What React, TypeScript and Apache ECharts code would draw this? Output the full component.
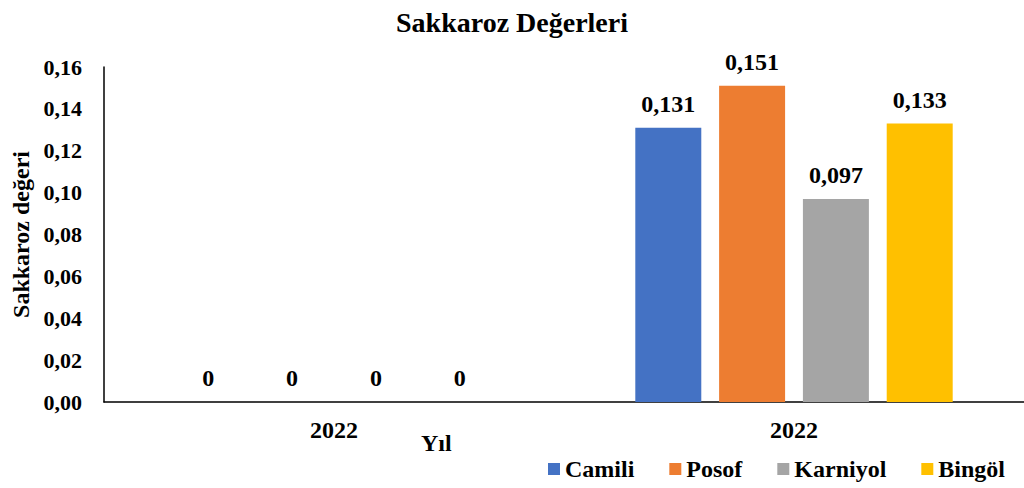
import React, { useEffect, useRef } from "react";
import * as echarts from "echarts";

const categories = ["2022", "2022"];
const seriesNames = ["Camili", "Posof", "Karniyol", "Bingöl"];
const camili = [0, 0.131];
const posof = [0, 0.151];
const karniyol = [0, 0.097];
const bingol = [0, 0.133];
const colors = ["#4472C4", "#ED7D31", "#A5A5A5", "#FFC000"];
const yTicks = { min: 0, max: 0.16, interval: 0.02 };

const FONT = "'Liberation Serif', 'Times New Roman', serif";

export default function App() {
  const ref = useRef<HTMLDivElement>(null);
  useEffect(() => {
    if (!ref.current) return;
    const chart = echarts.init(ref.current, null, { renderer: "svg" });
    const values = [camili, posof, karniyol, bingol];
    const labelFmt = (p: any) =>
      p.value === 0 ? "0" : Number(p.value).toFixed(3).replace(".", ",");
    chart.setOption({
      animation: false,
      backgroundColor: "#ffffff",
      textStyle: { fontFamily: FONT },
      title: {
        text: "Sakkaroz Değerleri",
        left: "center",
        top: 3,
        textStyle: { fontFamily: FONT, fontWeight: "bold", fontSize: 28, color: "#000" },
      },
      legend: {
        data: seriesNames,
        right: 14,
        bottom: 2,
        itemWidth: 12,
        itemHeight: 12,
        itemGap: 35,
        icon: "rect",
        textStyle: { fontFamily: FONT, fontWeight: "bold", fontSize: 24, color: "#000" },
      },
      grid: { left: 104, right: 0, top: 67, bottom: 86, containLabel: false },
      xAxis: {
        type: "category",
        data: categories,
        axisLine: { lineStyle: { color: "#000", width: 1.5 } },
        axisTick: { show: false },
        axisLabel: { fontFamily: FONT, fontWeight: "bold", fontSize: 24, color: "#000", margin: 16 },
      },
      yAxis: {
        type: "value",
        min: yTicks.min,
        max: yTicks.max,
        interval: yTicks.interval,
        name: "Sakkaroz değeri",
        nameLocation: "middle",
        nameGap: 70,
        nameRotate: 90,
        nameTextStyle: { fontFamily: FONT, fontWeight: "bold", fontSize: 24, color: "#000" },
        axisLine: { show: true, lineStyle: { color: "#000", width: 1.5 } },
        axisTick: { show: false },
        splitLine: { show: false },
        axisLabel: {
          fontFamily: FONT,
          fontWeight: "bold",
          fontSize: 22,
          color: "#000",
          margin: 22,
          formatter: (v: number) => v.toFixed(2).replace(".", ","),
        },
      },
      graphic: [
        {
          type: "text",
          left: 421,
          top: 431,
          style: { text: "Yıl", font: `bold 24px ${FONT}`, fill: "#000" },
        },
      ],
      series: seriesNames.map((name, i) => ({
        name,
        type: "bar",
        data: values[i],
        barGap: "27%",
        barCategoryGap: "31%",
        itemStyle: { color: colors[i] },
        label: {
          show: true,
          position: "top",
          distance: 12,
          fontFamily: FONT,
          fontWeight: "bold",
          fontSize: 24,
          color: "#000",
          formatter: labelFmt,
        },
      })),
    });
    return () => chart.dispose();
  }, []);
  return (
    <div
      ref={ref}
      style={{ position: "absolute", left: 0, top: 0, width: 1024, height: 488 }}
    />
  );
}
